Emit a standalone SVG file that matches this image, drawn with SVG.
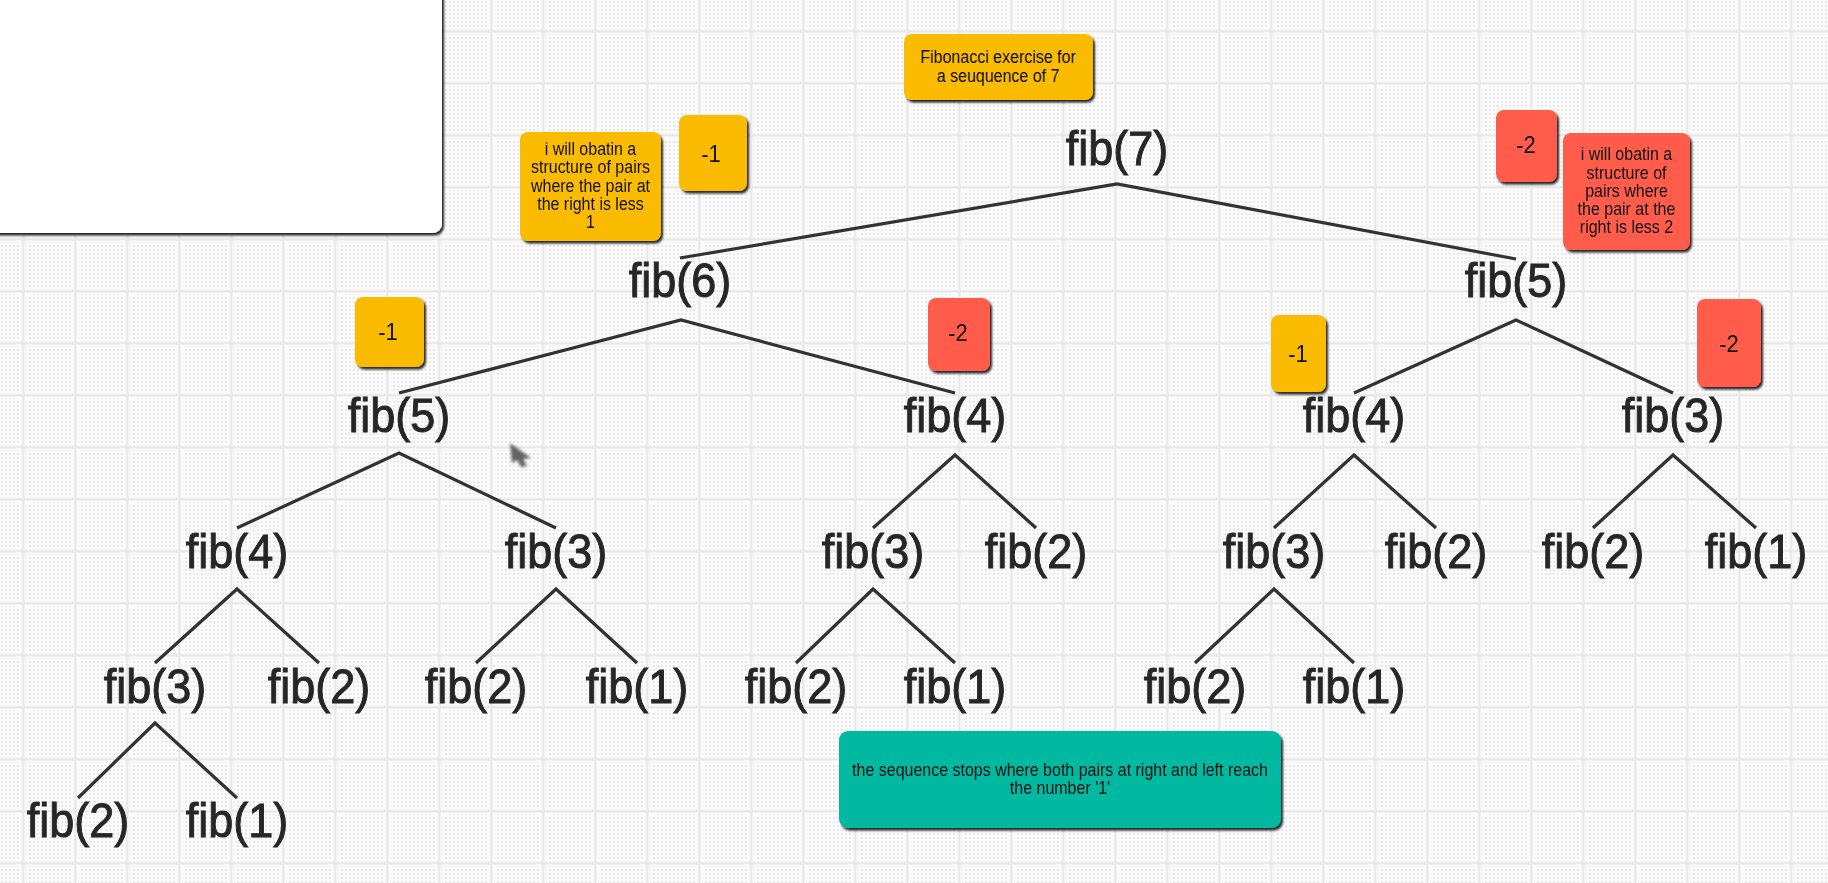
<svg xmlns="http://www.w3.org/2000/svg" width="1828" height="883" viewBox="0 0 1828 883">
  <defs>
    <pattern id="dots" x="0" y="0" width="4" height="4" patternUnits="userSpaceOnUse">
      <rect width="4" height="4" fill="#fbfbfb"/>
      <rect x="1" y="1" width="2" height="2" fill="#e9e9e9"/>
    </pattern>
    <pattern id="grid" x="19.5" y="27.5" width="52" height="52" patternUnits="userSpaceOnUse">
      <rect x="0" y="0" width="7" height="52" fill="#fbfbfb"/>
      <rect x="0" y="0" width="52" height="7" fill="#fbfbfb"/>
      <rect x="2.5" y="0" width="2.5" height="52" fill="#e8e8e8"/>
      <rect x="0" y="2.5" width="52" height="2.5" fill="#e8e8e8"/>
    </pattern>
    <filter id="shadow" x="-10%" y="-10%" width="125%" height="130%">
      <feDropShadow dx="2" dy="2.5" stdDeviation="1.2" flood-color="#000" flood-opacity="0.85"/>
    </filter>
    <filter id="soft" x="-5%" y="-5%" width="110%" height="110%">
      <feGaussianBlur stdDeviation="0.75"/>
    </filter>
    <filter id="cur" x="-50%" y="-50%" width="200%" height="200%">
      <feGaussianBlur stdDeviation="1.8"/>
    </filter>
    <style>
      .fib { font-family: "Liberation Sans", Arial, sans-serif; font-size: 45px; fill: #262626; stroke: #262626; stroke-width: 0.9px; text-anchor: middle; transform: scale(1, 1.07); }
      .edge { fill: none; stroke: #333333; stroke-width: 3.2; stroke-linejoin: miter; }
      .note { font-family: "Liberation Sans", Arial, sans-serif; font-size: 16px; fill: #111; text-anchor: middle; }
      .num { font-family: "Liberation Sans", Arial, sans-serif; font-size: 22px; fill: #111; text-anchor: middle; }
      .yellow { fill: #fbbc05; }
      .red { fill: #ff5b4c; }
      .teal { fill: #00b9a0; }
    </style>
  </defs>

  <rect width="1828" height="883" fill="url(#dots)"/>
  <rect width="1828" height="883" fill="url(#grid)"/>

  <g id="white-panel">
    <rect x="-12" y="-12" width="454" height="245" rx="9" fill="#ffffff" filter="url(#shadow)"/>
  </g>

  <g id="cursor" filter="url(#cur)" opacity="0.75">
    <polygon points="510,443 531,458 523,459 527,466 521,467 517,460 512,463" fill="#333"/>
  </g>

  <g id="connectors" filter="url(#soft)">
    <polyline class="edge" points="680,258 1117,184 1516,259"/>
    <polyline class="edge" points="399,393 681,320 955,393"/>
    <polyline class="edge" points="1354,393 1516,320 1673,393"/>
    <polyline class="edge" points="237,528 399,453 556,528"/>
    <polyline class="edge" points="873,528 955,455 1036,528"/>
    <polyline class="edge" points="1274,528 1354,455 1436,528"/>
    <polyline class="edge" points="1593,528 1673,455 1756,528"/>
    <polyline class="edge" points="155,663 237,589 319,663"/>
    <polyline class="edge" points="476,663 556,589 637,663"/>
    <polyline class="edge" points="796,663 873,589 955,663"/>
    <polyline class="edge" points="1195,663 1274,589 1354,663"/>
    <polyline class="edge" points="78,798 155,723 237,798"/>
  </g>

  <g id="tree" filter="url(#soft)">
    <g id="fib7" transform="translate(1117,165)"><text class="fib">fib(7)</text></g>
    <g id="fib6" transform="translate(680,297)"><text class="fib">fib(6)</text></g>
    <g id="fib5-r" transform="translate(1516,297)"><text class="fib">fib(5)</text></g>
    <g id="fib5-l" transform="translate(399,432)"><text class="fib">fib(5)</text></g>
    <g id="fib4-m" transform="translate(955,432)"><text class="fib">fib(4)</text></g>
    <g id="fib4-r" transform="translate(1354,432)"><text class="fib">fib(4)</text></g>
    <g id="fib3-rr" transform="translate(1673,432)"><text class="fib">fib(3)</text></g>
    <g id="fib4-l" transform="translate(237,568)"><text class="fib">fib(4)</text></g>
    <g id="fib3-l" transform="translate(556,568)"><text class="fib">fib(3)</text></g>
    <g id="fib3-m" transform="translate(873,568)"><text class="fib">fib(3)</text></g>
    <g id="fib2-m" transform="translate(1036,568)"><text class="fib">fib(2)</text></g>
    <g id="fib3-r" transform="translate(1274,568)"><text class="fib">fib(3)</text></g>
    <g id="fib2-r" transform="translate(1436,568)"><text class="fib">fib(2)</text></g>
    <g id="fib2-rr" transform="translate(1593,568)"><text class="fib">fib(2)</text></g>
    <g id="fib1-rr" transform="translate(1756,568)"><text class="fib">fib(1)</text></g>
    <g id="fib3-ll" transform="translate(155,703)"><text class="fib">fib(3)</text></g>
    <g id="fib2-ll" transform="translate(319,703)"><text class="fib">fib(2)</text></g>
    <g id="fib2-l" transform="translate(476,703)"><text class="fib">fib(2)</text></g>
    <g id="fib1-l" transform="translate(637,703)"><text class="fib">fib(1)</text></g>
    <g id="fib2-m2" transform="translate(796,703)"><text class="fib">fib(2)</text></g>
    <g id="fib1-m2" transform="translate(955,703)"><text class="fib">fib(1)</text></g>
    <g id="fib2-r2" transform="translate(1195,703)"><text class="fib">fib(2)</text></g>
    <g id="fib1-r2" transform="translate(1354,703)"><text class="fib">fib(1)</text></g>
    <g id="fib2-lll" transform="translate(78,837)"><text class="fib">fib(2)</text></g>
    <g id="fib1-lll" transform="translate(237,837)"><text class="fib">fib(1)</text></g>
  </g>

  <g id="note-title">
    <rect class="yellow" x="904" y="34" width="189" height="66" rx="8" filter="url(#shadow)"/>
    <text class="note" transform="matrix(1 0 0 1.12 998 63)">Fibonacci exercise for</text>
    <text class="note" transform="matrix(1 0 0 1.12 998 82)">a seuquence of 7</text>
  </g>

  <g id="note-left">
    <rect class="yellow" x="520" y="132" width="141" height="109" rx="8" filter="url(#shadow)"/>
    <text class="note" transform="matrix(1 0 0 1.12 590.5 155)">i will obatin a</text>
    <text class="note" transform="matrix(1 0 0 1.12 590.5 173)">structure of pairs</text>
    <text class="note" transform="matrix(1 0 0 1.12 590.5 191.5)">where the pair at</text>
    <text class="note" transform="matrix(1 0 0 1.12 590.5 210)">the right is less</text>
    <text class="note" transform="matrix(1 0 0 1.12 590.5 228)">1</text>
  </g>

  <g id="minus1-top">
    <rect class="yellow" x="679" y="115" width="68" height="76" rx="8" filter="url(#shadow)"/>
    <text class="num" transform="matrix(1 0 0 1.12 711 161.5)">-1</text>
  </g>

  <g id="minus2-top">
    <rect class="red" x="1496" y="110" width="61" height="72" rx="8" filter="url(#shadow)"/>
    <text class="num" transform="matrix(1 0 0 1.12 1526 153)">-2</text>
  </g>

  <g id="note-right">
    <rect class="red" x="1563" y="133" width="127" height="117" rx="8" filter="url(#shadow)"/>
    <text class="note" transform="matrix(1 0 0 1.12 1626.5 160)">i will obatin a</text>
    <text class="note" transform="matrix(1 0 0 1.12 1626.5 179)">structure of</text>
    <text class="note" transform="matrix(1 0 0 1.12 1626.5 197)">pairs where</text>
    <text class="note" transform="matrix(1 0 0 1.12 1626.5 215)">the pair at the</text>
    <text class="note" transform="matrix(1 0 0 1.12 1626.5 233)">right is less 2</text>
  </g>

  <g id="minus1-left">
    <rect class="yellow" x="355" y="297" width="69" height="70" rx="8" filter="url(#shadow)"/>
    <text class="num" transform="matrix(1 0 0 1.12 388 340)">-1</text>
  </g>

  <g id="minus2-mid">
    <rect class="red" x="928" y="298" width="62" height="73" rx="8" filter="url(#shadow)"/>
    <text class="num" transform="matrix(1 0 0 1.12 958 341)">-2</text>
  </g>

  <g id="minus1-right">
    <rect class="yellow" x="1271" y="315" width="55" height="77" rx="8" filter="url(#shadow)"/>
    <text class="num" transform="matrix(1 0 0 1.12 1298 362)">-1</text>
  </g>

  <g id="minus2-right">
    <rect class="red" x="1697" y="299" width="64" height="88" rx="8" filter="url(#shadow)"/>
    <text class="num" transform="matrix(1 0 0 1.12 1729 352)">-2</text>
  </g>

  <g id="note-bottom">
    <rect class="teal" x="839" y="731" width="442" height="97" rx="9" filter="url(#shadow)"/>
    <text class="note" transform="matrix(1 0 0 1.12 1060 776)">the sequence stops where both pairs at right and left reach</text>
    <text class="note" transform="matrix(1 0 0 1.12 1060 794)">the number '1'</text>
  </g>
</svg>
